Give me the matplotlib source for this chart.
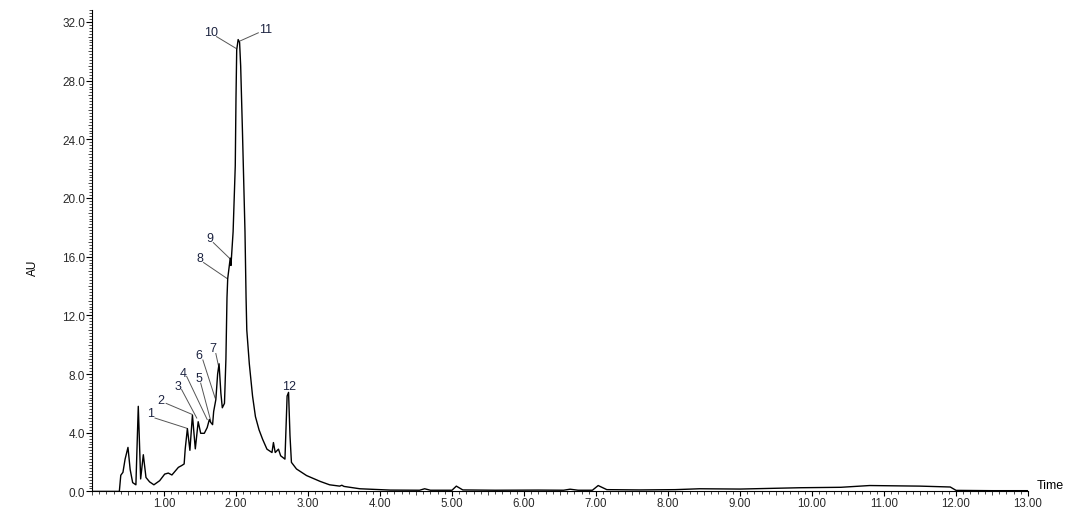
import matplotlib.pyplot as plt
from matplotlib.ticker import MultipleLocator, FormatStrFormatter

# chromatogram trace (minutes, AU)
time = [0.0, 0.38, 0.40, 0.43, 0.46, 0.50, 0.53, 0.565, 0.61, 0.643,
        0.676, 0.713, 0.75, 0.80, 0.86, 0.94, 1.01, 1.06, 1.11, 1.15,
        1.20, 1.245, 1.28, 1.295, 1.325, 1.36, 1.395, 1.435, 1.475, 1.51,
        1.56, 1.60, 1.63, 1.65, 1.675, 1.69, 1.72, 1.745, 1.765, 1.79,
        1.81, 1.84, 1.86, 1.875, 1.885, 1.905, 1.92, 1.93, 1.96, 1.99,
        2.00, 2.01, 2.03, 2.05, 2.065, 2.09, 2.125, 2.14, 2.15, 2.185,
        2.23, 2.27, 2.32, 2.37, 2.43, 2.50, 2.52, 2.545, 2.59, 2.62,
        2.68, 2.71, 2.73, 2.75, 2.77, 2.84, 2.98, 3.17, 3.30, 3.44,
        3.47, 3.50, 3.72, 4.14, 4.55, 4.62, 4.70, 5.00, 5.06, 5.15,
        5.60, 6.20, 6.55, 6.64, 6.75, 6.95, 7.03, 7.15, 7.60, 8.10,
        8.44, 9.00, 9.83, 10.40, 10.80, 11.50, 11.92, 12.00, 12.50, 13.00]
au = [0.0, 0.0, 1.1, 1.3, 2.2, 3.0, 1.5, 0.6, 0.45, 5.8,
      0.85, 2.5, 0.95, 0.65, 0.45, 0.73, 1.18, 1.25, 1.12, 1.35,
      1.64, 1.76, 1.87, 2.9, 4.28, 2.8, 5.2, 2.9, 4.75, 3.96,
      3.96, 4.35, 4.9, 4.7, 4.55, 5.45, 6.25, 8.0, 8.7, 6.7,
      5.7, 6.0, 9.0, 13.2, 14.5, 15.3, 15.9, 15.4, 17.7, 22.2,
      26.8, 30.1, 30.8, 30.6, 29.0, 24.5, 17.7, 13.2, 11.0, 8.7,
      6.5, 5.1, 4.2, 3.55, 2.88, 2.65, 3.33, 2.65, 2.88, 2.43,
      2.2, 6.5, 6.75, 3.8, 1.98, 1.53, 1.08, 0.68, 0.45, 0.36,
      0.42, 0.34, 0.18, 0.09, 0.08, 0.18, 0.08, 0.08, 0.36, 0.10,
      0.08, 0.09, 0.08, 0.15, 0.08, 0.08, 0.40, 0.12, 0.10, 0.12,
      0.18, 0.16, 0.25, 0.28, 0.40, 0.36, 0.30, 0.07, 0.05, 0.05]

# peak labels: text position and the point on the trace the leader goes to
peak_names = ['1', '2', '3', '4', '5', '6', '7', '8', '9', '10', '11']
label_t = [0.82, 0.95, 1.20, 1.27, 1.49, 1.49, 1.676, 1.50, 1.64, 1.65, 2.41]
label_au = [5.36, 6.26, 7.16, 8.10, 7.72, 9.30, 9.75, 15.9, 17.3, 31.3, 31.5]
line_t0 = [0.875, 1.03, 1.245, 1.315, 1.51, 1.54, 1.72, 1.55, 1.685, 1.73, 2.31]
line_au0 = [5.0, 6.0, 6.94, 7.84, 7.38, 8.96, 9.4, 15.6, 16.96, 31.0, 31.26]
peak_t = [1.32, 1.39, 1.455, 1.60, 1.65, 1.71, 1.755, 1.88, 1.93, 2.0, 2.055]
peak_au = [4.3, 5.25, 5.0, 4.9, 4.8, 6.37, 8.6, 14.5, 15.8, 30.2, 30.7]

plt.rcParams['font.family'] = ['Liberation Sans', 'DejaVu Sans']

fig = plt.figure(figsize=(10.67, 5.10), dpi=100)
ax = fig.add_axes([0.0862, 0.0345, 0.8773, 0.9435])

ax.plot(time, au, color='black', lw=1.0, zorder=3)

txt_col = '#1c2340'
for i in range(len(peak_names)):
    ax.plot([line_t0[i], peak_t[i]], [line_au0[i], peak_au[i]], color='#555555', lw=0.7)
    ax.text(label_t[i], label_au[i], peak_names[i], ha='center', va='center',
            fontsize=9, color=txt_col)
ax.text(2.74, 7.2, '12', ha='center', va='center', fontsize=9, color=txt_col)

ax.set_xlim(0, 13)
ax.set_ylim(0, 32.8)
ax.spines['top'].set_visible(False)
ax.spines['right'].set_visible(False)
ax.spines['left'].set_linewidth(0.8)
ax.spines['bottom'].set_linewidth(0.8)

ax.set_xticks(list(range(1, 14)))
ax.xaxis.set_minor_locator(MultipleLocator(0.1))
ax.xaxis.set_major_formatter(FormatStrFormatter('%.2f'))
ax.yaxis.set_major_locator(MultipleLocator(4.0))
ax.yaxis.set_minor_locator(MultipleLocator(0.2))
ax.yaxis.set_major_formatter(FormatStrFormatter('%.1f'))
ax.tick_params(which='major', length=4, width=0.8, labelsize=8.5, pad=1,
               labelcolor='#2a2a2a')
ax.tick_params(axis='x', which='major', length=3.5, pad=0.5, labelsize=8.3)
ax.tick_params(which='minor', length=2, width=0.5)

# a bit longer minor ticks at each 1.0 AU and each half minute
for loc, tk in zip(ax.yaxis.get_minorticklocs(), ax.yaxis.get_minor_ticks()):
    if abs(loc - round(loc)) < 1e-6:
        tk.tick1line.set_markersize(3.2)
for loc, tk in zip(ax.xaxis.get_minorticklocs(), ax.xaxis.get_minor_ticks()):
    if abs(loc * 2 - round(loc * 2)) < 1e-6:
        tk.tick1line.set_markersize(3.2)

ax.text(1.009, 0.014, 'Time', transform=ax.transAxes, ha='left', va='center',
        fontsize=9)
fig.text(0.031, 0.4745, 'AU', rotation=90, ha='center', va='center', fontsize=8.5)

fig.savefig('out.png', dpi=100)
